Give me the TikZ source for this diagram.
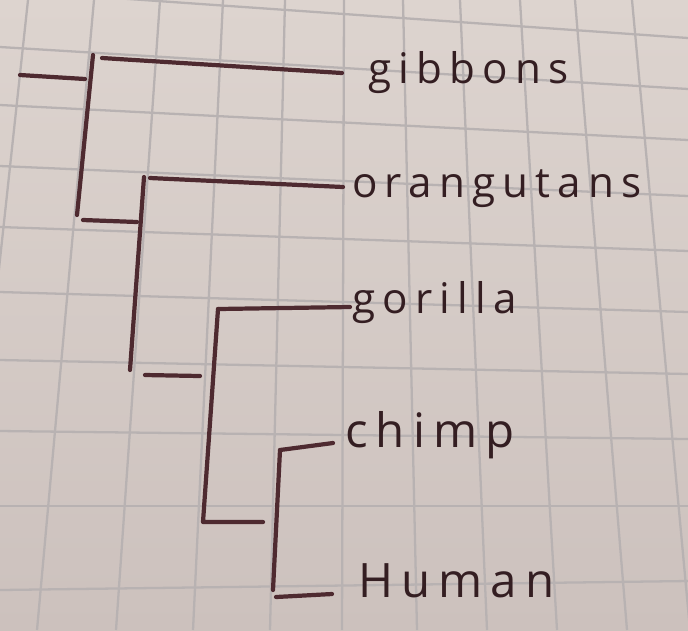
\documentclass[tikz,border=0pt]{standalone}
\usepackage{fontspec}
\usetikzlibrary{positioning}
\newfontfamily\handfont[LetterSpace=17]{Open Sans}
\definecolor{PaperTop}{RGB}{221,212,207}
\definecolor{PaperBottom}{RGB}{204,193,189}
\definecolor{GridGray}{RGB}{184,178,178}
\definecolor{InkBrown}{RGB}{78,42,48}
\definecolor{InkDark}{RGB}{52,30,34}

\begin{document}
\begin{tikzpicture}[
    x=0.02cm, y=-0.02cm,
    branch/.style={draw=InkBrown, line width=2.4pt, line cap=round, line join=round},
    gridline/.style={draw=GridGray, line width=1.3pt},
    leaf/.style={font=\handfont\fontsize{24}{27}\selectfont, text=InkDark,
        inner sep=0pt, anchor=base west},
    bigleaf/.style={leaf, font=\handfont\fontsize{27}{30}\selectfont},
]

% papel cuadriculado
\useasboundingbox (0,0) rectangle (688,630);
\shade[top color=PaperTop, bottom color=PaperBottom] (0,0) rectangle (688,630);
\begin{scope}
\clip (0,0) rectangle (688,630);
\foreach \t/\b in {28/-40, 94/37, 160/116, 223/193, 285/270, 344/342,
                   403/417, 460/487, 520/557, 575/627, 632/690}{
    \draw[gridline] (\t,0) -- (\b,630);
}
\foreach \l/\r in {-10/38, 47/89, 105/140, 166/196, 227/251, 292/312,
                   360/374, 431/439, 506/506, 590/581}{
    \draw[gridline] (0,\l) -- (688,\r);
}
\end{scope}

% nombres
\node[leaf] (gib) at (368,83) {gibbons};
\node[leaf] (ora) at (352,197) {orangutans};
\node[leaf] (gor) at (352,313) {gorilla};
\node[bigleaf] (chi) at (345,447) {chimp};
\node[bigleaf] (hum) at (358,597) {Human};

% puntos del arbol
\coordinate (root) at (20,75);
\coordinate (n1) at (85,79);
\coordinate (n1top) at (93,55);
\coordinate (n1bot) at (77,215);
\coordinate (s1top) at (102,58);
\coordinate (s1bot) at (83,220);
\coordinate (n2) at (137,222);
\coordinate (n2top) at (144,177);
\coordinate (n2bot) at (130,370);
\coordinate (s2top) at (150,178);
\coordinate (s2bot) at (145,375);
\coordinate (n3) at (200,376);
\coordinate (n3top) at (218,309);
\coordinate (n3bot) at (203,522);
\coordinate (n4) at (263,522);
\coordinate (n4top) at (280,450);
\coordinate (n4bot) at (273,590);
\coordinate (s4bot) at (276,597);
\coordinate (tgib) at (342,73);
\coordinate (tora) at (343,187);
\coordinate (tgor) at (350,307);
\coordinate (tchi) at (333,443);
\coordinate (thum) at (332,594);

% ramas
\draw[branch] (root) -- (n1);
\draw[branch] (n1top) -- (n1bot);
\draw[branch] (s1top) -- (tgib);
\draw[branch] (s1bot) -- (n2);
\draw[branch] (n2top) -- (n2bot);
\draw[branch] (s2top) -- (tora);
\draw[branch] (s2bot) -- (n3);
\draw[branch] (n3top) -- (n3bot) -- (n4);
\draw[branch] (n3top) -- (tgor);
\draw[branch] (n4top) -- (n4bot);
\draw[branch] (n4top) -- (tchi);
\draw[branch] (s4bot) -- (thum);

\end{tikzpicture}
\end{document}
